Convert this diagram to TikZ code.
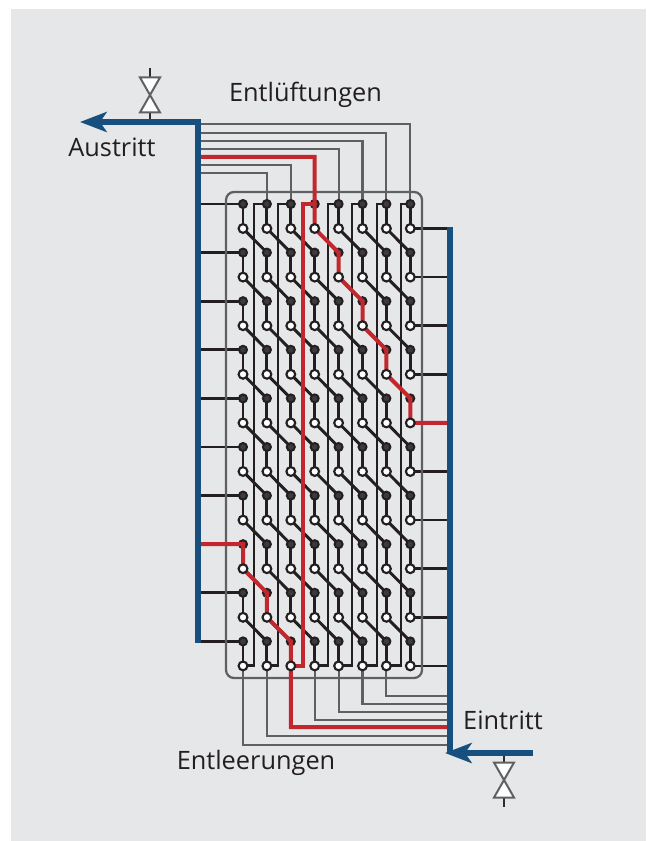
\documentclass[tikz,border=0pt]{standalone}
\usepackage{fontspec}
\setmainfont{Open Sans}
\usetikzlibrary{arrows.meta,calc}
\definecolor{HXPanel}{HTML}{E6E7E9}
\definecolor{HXInk}{HTML}{231F20}
\definecolor{HXGray}{HTML}{5F6062}
\definecolor{HXRed}{HTML}{C1272D}
\definecolor{HXBlue}{HTML}{17507F}
\pgfdeclarelayer{ground}
\pgfdeclarelayer{tubes}
\pgfdeclarelayer{front}
\pgfsetlayers{ground,tubes,main,front}
\tikzset{
  tube/.style={HXInk,line width=2.2pt},
  stub/.style={HXInk,line width=2pt},
  vent/.style={HXGray,line width=1.6pt},
  hotpath/.style={HXRed,line width=3pt},
  header/.style={HXBlue,line width=4.4pt},
  headerout/.style={header,-{Stealth[length=20pt,width=15pt,inset=5pt]}},
  shell/.style={HXGray,line width=1.7pt,rounded corners=6pt},
  nodeblack/.style={circle,draw=HXInk,fill=HXInk!88!white,line width=1.5pt,inner sep=0pt,minimum size=6pt},
  nodewhite/.style={circle,draw=HXInk,fill=white,line width=1.6pt,inner sep=0pt,minimum size=6.6pt},
  valve/.style={draw=HXGray,fill=white,line width=1.5pt,line join=miter},
  stem/.style={HXInk!80!HXGray,line width=1.4pt},
  caption/.style={text=HXInk,font=\fontsize{19}{22}\selectfont,inner sep=0pt},
}
\newcommand{\valveicon}[2]{%
  \path[valve] (#1,#2) -- ++(-10,-17.5) -- ++(20,0) -- cycle;
  \path[valve] (#1,#2) -- ++(-10,17.5) -- ++(20,0) -- cycle;%
}
\begin{document}
\begin{tikzpicture}[x=.75pt,y=-.75pt]
    \useasboundingbox (0,0) rectangle (646,841);
    \begin{pgfonlayer}{ground}
      \fill[white] (0,0) rectangle (646,841);
      \fill[HXPanel] (11,9) rectangle (646,841);
    \end{pgfonlayer}

    % header ends
    \coordinate (hdrLbot) at (198,643);
    \coordinate (hdrLtop) at (198,122);
    \coordinate (outEnd) at (80,122);
    \coordinate (hdrRtop) at (450,227);
    \coordinate (hdrRbot) at (450,753);
    \coordinate (inStart) at (533,753);
    \coordinate (inEnd) at (445,753);

    % tube plate, black and white ends
    \foreach \i in {1,...,8}{
      \foreach \k in {0,...,9}{
        \node[nodeblack] (b-\i-\k) at ({243+23.9*(\i-1)},{204+48.6*\k}) {};
        \begin{pgfonlayer}{front}
          \node[nodewhite] (w-\i-\k) at ({243+23.9*(\i-1)},{228.5+48.6*\k}) {};
        \end{pgfonlayer}
      }
    }

    \begin{pgfonlayer}{tubes}
      % straight and slanted tube runs
      \foreach \i in {1,...,8}{
        \foreach \k in {0,...,9}{
          \draw[tube] (b-\i-\k.center) -- (w-\i-\k.center);
        }
      }
      \foreach \i/\j in {1/2,2/3,3/4,4/5,5/6,6/7,7/8}{
        \foreach \k/\m in {0/1,1/2,2/3,3/4,4/5,5/6,6/7,7/8,8/9}{
          \draw[tube] (w-\i-\k.center) -- (b-\j-\m.center);
        }
      }
      % long returns
      \foreach \i/\j/\ux in {1/2/254,2/3/278,4/5/328,5/6/352,6/7/377,7/8/401}{
        \coordinate (u-\i) at (\ux,0);
        \draw[tube] (w-\i-9.center) -- (w-\i-9 -| u-\i) -- (b-\j-0 -| u-\i) -- (b-\j-0.center);
      }
      % stubs to the headers
      \foreach \k in {0,...,9}{
        \draw[stub] (b-1-\k.center) -- (b-1-\k -| hdrLtop);
        \draw[stub] (w-8-\k.center) -- (w-8-\k -| hdrRtop);
      }
      % vents and drains
      \foreach \i/\y in {2/173,3/165,5/149,6/141,7/133,8/124}{
        \draw[vent] (b-\i-0.center) |- (hdrLtop |- 0,\y);
      }
      \foreach \i/\y in {1/745,2/736,4/720,5/712,6/704,7/696}{
        \draw[vent] (w-\i-9.center) |- (hdrRtop |- 0,\y);
      }
      \draw[shell] (226,192) rectangle (422,678);
    \end{pgfonlayer}

    % marked flow paths
    \coordinate (u-3) at (303,0);
    \draw[hotpath] (hdrLtop |- b-1-7) -- (b-1-7.center) -- (w-1-7.center) -- (b-2-8.center)
      -- (w-2-8.center) -- (b-3-9.center) -- (w-3-9.center) |- (hdrRtop |- 0,727);
    \draw[hotpath] (w-3-9.center) -- (w-3-9 -| u-3) -- (b-4-0 -| u-3) -- (b-4-0.center);
    \draw[hotpath] (hdrLtop |- 0,157) -| (b-4-0.center) -- (w-4-0.center) -- (b-5-1.center)
      -- (w-5-1.center) -- (b-6-2.center) -- (w-6-2.center) -- (b-7-3.center)
      -- (w-7-3.center) -- (b-8-4.center) -- (w-8-4.center) -- (w-8-4 -| hdrRtop);

    % valves
    \draw[stem] (150,68) -- (150,122);
    \valveicon{150}{95}
    \draw[stem] (504,753) -- (504,807);
    \valveicon{504}{780}

    % headers
    \draw[headerout] (hdrLbot) -- (hdrLtop) -- (outEnd);
    \draw[header] (hdrRtop) -- (hdrRbot);
    \draw[headerout] (inStart) -- (inEnd);

    \node[caption] (vents) at (305.5,95) {Entlüftungen};
    \node[caption] (outlet) at (112,147) {Austritt};
    \node[caption] (inlet) at (503,720) {Eintritt};
    \node[caption] (drains) at (256,763) {Entleerungen};
  \end{tikzpicture}
\end{document}
